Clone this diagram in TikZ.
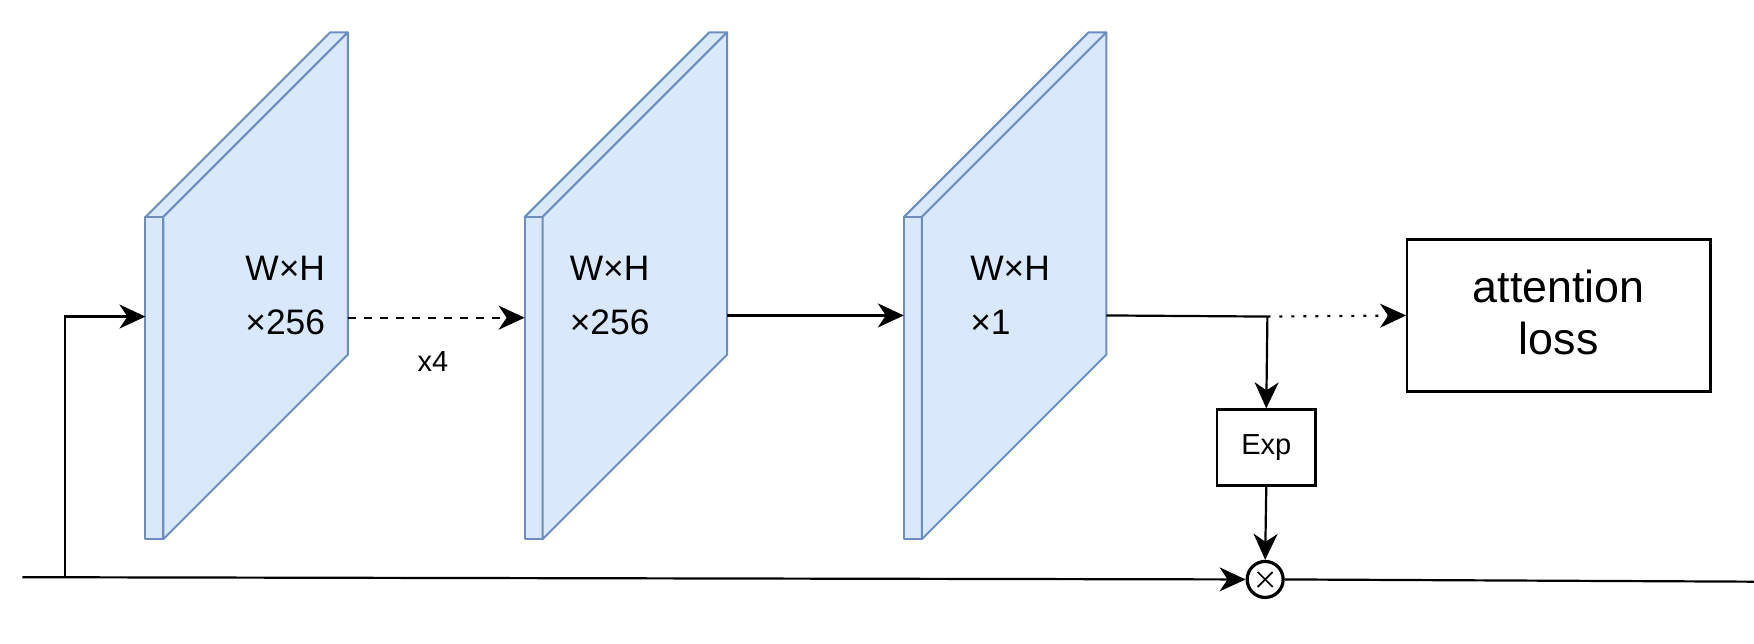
\documentclass[tikz,border=0pt]{standalone}
\usepackage{fontspec}
\setmainfont{Liberation Sans}
\usetikzlibrary{arrows.meta}
\definecolor{fmfill}{HTML}{DAE8FC}
\definecolor{fmdraw}{HTML}{6C8EBF}
\begin{document}
\begin{tikzpicture}[x=0.5593pt,y=-0.5593pt,
  fm/.style={fill=fmfill,draw=fmdraw,line width=1pt,line join=round},
  conn/.style={line width=1.1pt,-{Stealth[length=13pt,width=12pt,inset=4pt]}},
  plain/.style={line width=1.1pt},
  lbl/.style={font=\fontsize{17.7}{20}\selectfont,anchor=west,inner sep=0pt},
  box/.style={draw,line width=1.1pt,align=center,inner sep=0pt}]
\useasboundingbox (0,0) rectangle (1568,575.7);
\foreach \dx in {0,339,678}{
  \begin{scope}[xshift=\dx*0.5593pt]
  \filldraw[fm] (130,194) -- (146,194) -- (311,29) -- (295,29) -- cycle;
  \filldraw[fm] (130,194) rectangle (146,482);
  \filldraw[fm] (146,194) -- (311,29) -- (311,317) -- (146,482) -- cycle;
  \end{scope}
}
\node[lbl] (t1a) at (219,240) {W×H};
\node[lbl] (t1b) at (219,288) {×256};
\node[lbl] (t2a) at (509,240) {W×H};
\node[lbl] (t2b) at (509,288) {×256};
\node[lbl] (t3a) at (867,240) {W×H};
\node[lbl] (t3b) at (867,288) {×1};
\node[font=\fontsize{14.5}{17}\selectfont,inner sep=0pt] (x4) at (387,323) {x4};

\coordinate (in0) at (20,516);
\coordinate (br) at (58,516);
\coordinate (b1in) at (130,283);
\coordinate (b1out) at (311,284);
\coordinate (b2in) at (469,284);
\coordinate (b2out) at (650,282);
\coordinate (b3in) at (808,282);
\coordinate (b3out) at (989,282);
\coordinate (split) at (1133,283);
\coordinate (outE) at (1568,520);

\node[box,minimum width=49.2pt,minimum height=38pt,font=\fontsize{14.5}{17}\selectfont] (exp) at (1132,400) {Exp};
\node[box,minimum width=151.6pt,minimum height=76pt,font=\fontsize{22.4}{25.7}\selectfont] (att) at (1393.5,282) {attention\\loss\rule{0pt}{0pt}\vspace*{3pt}};
\node[circle,draw,line width=1.6pt,minimum size=18pt,inner sep=0pt] (mul) at (1131,518) {};
\draw[line width=0.8pt] ([shift={(-6.7,-6.7)}]mul.center) -- ([shift={(6.7,6.7)}]mul.center);
\draw[line width=0.8pt] ([shift={(-6.7,6.7)}]mul.center) -- ([shift={(6.7,-6.7)}]mul.center);

\draw[conn] (in0) -- (mul.west);
\draw[conn] (br) |- (b1in);
\draw[conn,dash pattern=on 4pt off 4pt] (b1out) -- (b2in);
\draw[conn] (b2out) -- (b3in);
\draw[plain] (b3out) -- (split);
\draw[conn] (split) -- (exp.north);
\draw[conn,dash pattern=on 1.5pt off 4.5pt] (split) -- (att.west);
\draw[conn] (exp.south) -- (mul.north);
\draw[plain] (mul.east) -- (outE);
\end{tikzpicture}
\end{document}
